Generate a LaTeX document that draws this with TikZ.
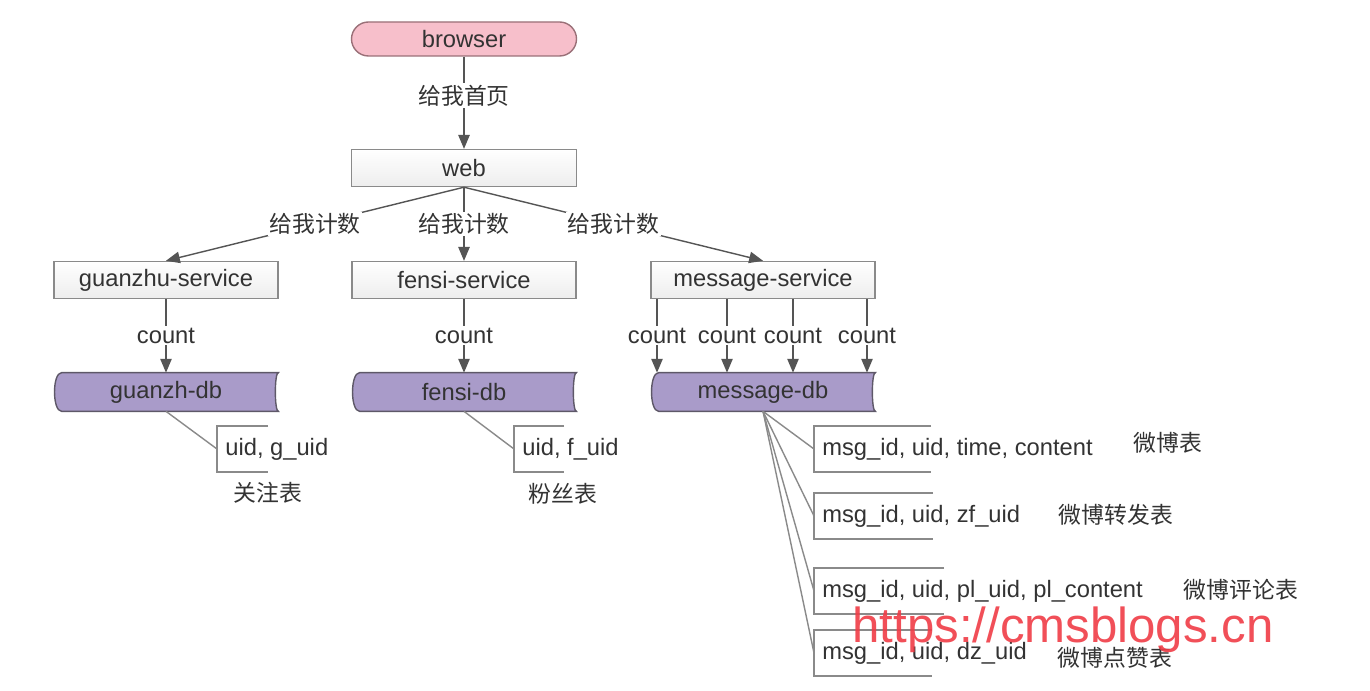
\documentclass[tikz,border=0pt]{standalone}
\usepackage{fontspec}
\setmainfont{Liberation Sans}
\newfontfamily\cjk{Noto Sans CJK SC}
\usetikzlibrary{arrows,backgrounds}

\definecolor{txtgray}{HTML}{333333}
\definecolor{linegray}{HTML}{8A8A8A}
\definecolor{arrgray}{HTML}{555555}
\definecolor{pinkfill}{HTML}{F7BFCB}
\definecolor{pinkline}{HTML}{9A7078}
\definecolor{dbfill}{HTML}{A99BC9}
\definecolor{dbline}{HTML}{5E5868}
\definecolor{markred}{HTML}{F03C46}

\tikzset{
  every node/.style={text=txtgray, font=\fontsize{13.5}{16}\selectfont},
  zh/.style={font=\cjk\fontsize{13}{16}\selectfont},
  svc/.style={draw=linegray, top color=white, bottom color=gray!14, line width=0.8pt,
    minimum width=4.48cm, minimum height=0.74cm},
  db/.style={minimum width=4.48cm, minimum height=0.76cm},
  tbl/.style={anchor=west, inner xsep=0.16cm, minimum height=0.9cm},
  lbl/.style={fill=white, inner sep=1pt},
  conn/.style={draw=arrgray, line width=0.8pt, -triangle 45},
  tie/.style={draw=linegray, line width=0.8pt},
}

\begin{document}
\begin{tikzpicture}

\useasboundingbox (0,0) rectangle (27.4,13.8);

\node[draw=pinkline, fill=pinkfill, line width=0.8pt, rounded corners=0.34cm,
  minimum width=4.5cm, minimum height=0.68cm] (browser) at (9.28,13.02) {browser};
\node[svc, minimum width=4.5cm] (web) at (9.28,10.44) {web};

\node[svc] (gsvc) at (3.32,8.2) {guanzhu-service};
\node[svc] (fsvc) at (9.28,8.2) {fensi-service};
\node[svc] (msvc) at (15.26,8.2) {message-service};

\node[db] (gdb) at (3.32,5.96) {guanzh-db};
\node[db] (fdb) at (9.28,5.96) {fensi-db};
\node[db] (mdb) at (15.26,5.96) {message-db};

% tables
\node[tbl] (gt) at (4.34,4.82) {uid, g\_uid};
\node[tbl] (ft) at (10.28,4.82) {uid, f\_uid};
\node[tbl] (m1) at (16.28,4.82) {msg\_id, uid, time, content};
\node[tbl] (m2) at (16.28,3.48) {msg\_id, uid, zf\_uid};
\node[tbl] (m3) at (16.28,1.98) {msg\_id, uid, pl\_uid, pl\_content};
\node[tbl] (m4) at (16.28,0.74) {msg\_id, uid, dz\_uid};

\node[zh] (gtn) at (5.36,3.94) {关注表};
\node[zh] (ftn) at (11.26,3.92) {粉丝表};
\node[zh] (m1n) at (23.36,4.94) {微博表};
\node[zh] (m2n) at (22.32,3.5) {微博转发表};
\node[zh] (m3n) at (24.82,2.0) {微博评论表};
\node[zh] (m4n) at (22.3,0.64) {微博点赞表};

\begin{pgfonlayer}{background}
\fill[white] (0,0) rectangle (27.4,13.8);
\foreach \d in {gdb,fdb,mdb}
  \draw[dbline, fill=dbfill, line width=0.8pt] ([xshift=0.16cm]\d.north west) -- (\d.north east)
    .. controls ([xshift=-0.08cm]\d.north east) and ([xshift=-0.08cm]\d.south east) .. (\d.south east)
    -- ([xshift=0.16cm]\d.south west)
    .. controls ([xshift=-0.03cm]\d.south west) and ([xshift=-0.03cm]\d.north west) .. ([xshift=0.16cm]\d.north west) -- cycle;
\end{pgfonlayer}

\draw[conn] (browser) -- node[lbl, zh, pos=0.42] {给我首页} (web);
\draw[conn] (web.south) -- node[lbl, zh] {给我计数} (gsvc.north);
\draw[conn] (web.south) -- node[lbl, zh] {给我计数} (fsvc.north);
\draw[conn] (web.south) -- node[lbl, zh] {给我计数} (msvc.north);

\draw[conn] (gsvc) -- node[lbl] {count} (gdb);
\draw[conn] (fsvc) -- node[lbl] {count} (fdb);
\foreach \dx in {-2.12,-0.72,0.6,2.08}
  \draw[conn] ([xshift=\dx cm]msvc.south) -- node[lbl] {count} ([xshift=\dx cm]mdb.north);

\draw[tie] (gdb.south) -- (gt.west);
\draw[tie] (fdb.south) -- (ft.west);
\foreach \t in {m1,m2,m3,m4}
  \draw[tie] (mdb.south) -- (\t.west);
\foreach \t/\w in {gt/1.02, ft/1.0, m1/2.34, m2/2.38, m3/2.6, m4/2.36}
  \draw[tie] ([xshift=\w cm]\t.north west) -| (\t.south west) -- ++(\w,0);

\node[text=markred, opacity=0.9, font=\fontsize{28}{30}\selectfont, anchor=base west,
  inner sep=0pt] (mark) at (17.04,0.94) {https://cmsblogs.cn};

\end{tikzpicture}
\end{document}
